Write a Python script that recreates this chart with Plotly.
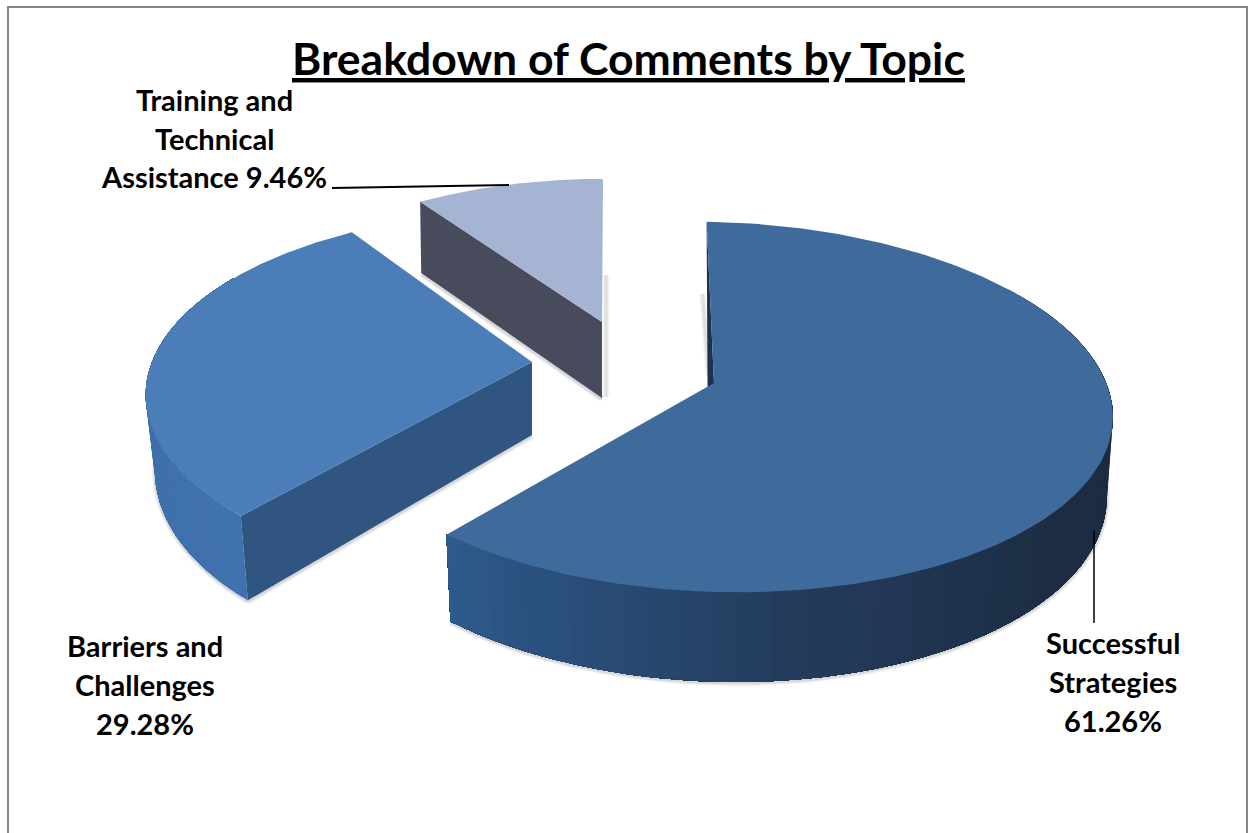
import numpy as np
import plotly.graph_objects as go

# Comment shares by topic, clockwise from twelve o'clock
TOPICS = ["Successful Strategies", "Barriers and Challenges", "Training and Technical Assistance"]
SHARES = [61.26, 29.28, 9.46]

TITLE = "Breakdown of Comments by Topic"
FONT = "Lato, Carlito, Calibri, sans-serif"

# Wrapped label lines; the share is filled into the last one
LABEL_LINES = [
    ["Successful", "Strategies", "{:.2f}%"],
    ["Barriers and", "Challenges", "{:.2f}%"],
    ["Training and", "Technical", "Assistance {:.2f}%"],
]
LABEL_X = [1113, 145, 214]
LABEL_Y = [[642, 681, 720], [645, 684, 723], [99, 138, 176]]

# Perspective of each exploded wedge: apex, rim offset, radii, foreshortening, shear,
# rim tilt, wall height, wall taper, foot offset under the apex and a small rotation
WEDGE_VIEW = [
    dict(cx=714, cy=383, dx=4, a=391, b=182, k=0.13, sh=4, tilt=8, h=78, shrink=0.015, foot=-6, rot=-1.3),
    dict(cx=532, cy=362, dx=0, a=380, b=178, k=0.18, sh=0, tilt=0, h=73, shrink=0.024, foot=0, rot=1.0),
    dict(cx=602, cy=322, dx=1, a=349, b=155, k=0.083, sh=0, tilt=0, h=76, shrink=0.006, foot=0, rot=0.0),
]
TOP_COLORS = ["#3f6a9c", "#4b7eb9", "#a5b4d3"]
CUT_COLORS = ["#1a3150", "#2f5580", "#474b5b"]
# Outer wall colour stops as (fraction along the visible arc, colour)
WALL_STOPS = [
    [(0.0, (27, 42, 62)), (0.45, (28, 44, 66)), (0.72, (36, 60, 92)), (1.0, (45, 90, 140))],
    [(0.0, (64, 114, 175)), (1.0, (60, 108, 166))],
    None,
]
# Range of angles on which the outer wall can be seen
WALL_RANGE = [(55, 221), (220, 300), None]


def project(view, theta_deg, drop=False):
    """Map angles on a wedge rim to page coordinates, optionally at the wall foot."""
    t = np.radians(np.asarray(theta_deg, float) + view["rot"])
    u, v = np.sin(t), -np.cos(t)
    w = 1 - view["k"] * v
    x = (view["a"] * u + view["sh"] * v) / w + view["dx"]
    y = view["b"] * v / w + view["tilt"] * u
    if drop:
        y = y + view["h"] / w
        x = x * (1 - view["shrink"])
    return view["cx"] + x, view["cy"] + y


def apex(view, drop=False):
    if drop:
        return view["cx"] + view["foot"], view["cy"] + view["h"]
    return view["cx"], view["cy"]


def blend(stops, f):
    for (f0, c0), (f1, c1) in zip(stops, stops[1:]):
        if f <= f1:
            m = (f - f0) / (f1 - f0)
            return "rgb({},{},{})".format(*[round(p + (q - p) * m) for p, q in zip(c0, c1)])
    return "rgb({},{},{})".format(*stops[-1][1])


def poly(xs, ys, color, name=None):
    return go.Scatter(
        x=list(xs), y=list(ys), mode="lines", fill="toself", fillcolor=color,
        line=dict(width=0), hoverinfo="skip", showlegend=False, name=name,
    )


def soft_edge(xs, ys, strength=1.0):
    """Blurred contact shadow built from stacked translucent strokes."""
    return [
        go.Scatter(x=list(xs), y=list(np.asarray(ys) + 1), mode="lines",
                   line=dict(color=f"rgba(70,70,70,{alpha * strength:.3f})", width=width),
                   hoverinfo="skip", showlegend=False)
        for width, alpha in [(7, 0.05), (5, 0.07), (3, 0.10)]
    ]


fig = go.Figure()

cum = np.concatenate([[0], np.cumsum(SHARES)]) * 3.6

# Painted back to front: training, barriers, then the large wedge
for i in [2, 1, 0]:
    view = WEDGE_VIEW[i]
    start, end = cum[i], cum[i + 1]
    arc = np.linspace(start, end, 181)
    rim_x, rim_y = project(view, arc)
    ax, ay = apex(view)
    bx, by = apex(view, drop=True)
    ex, ey = project(view, start)
    fx, fy = project(view, start, drop=True)

    # Contact shadows under the walls
    if WALL_RANGE[i]:
        lo, hi = WALL_RANGE[i]
        foot_arc = arc[(arc > max(lo, 70 if i == 0 else lo)) & (arc < min(hi, 290 if i == 1 else hi))]
        sx, sy = project(view, foot_arc, drop=True)
        for tr in soft_edge(sx, sy):
            fig.add_trace(tr)
    if i == 0:
        for tr in soft_edge([ex - 4, ex + 2], [ey + 71, ay - 8], 0.8):
            fig.add_trace(tr)
    else:
        for tr in soft_edge([fx, bx], [fy, by]):
            fig.add_trace(tr)
    if i == 2:
        for tr in soft_edge([bx + 4, bx + 4], [by - 2, ay - 48], 0.8):
            fig.add_trace(tr)

    # Outer wall: each strip reaches to the far end of the arc and the next
    # one paints over it, so no seams open up between neighbours
    if WALL_RANGE[i]:
        lo, hi = WALL_RANGE[i]
        wall_arc = np.linspace(max(lo, start), min(hi, end), 70)
        wall_top_x, wall_top_y = project(view, wall_arc)
        wall_low_x, wall_low_y = project(view, wall_arc, drop=True)
        for j in range(len(wall_arc) - 1):
            frac = j / (len(wall_arc) - 2)
            fig.add_trace(poly(
                np.concatenate([wall_top_x[j:], wall_low_x[j:][::-1], wall_top_x[j:j + 1]]),
                np.concatenate([wall_top_y[j:], wall_low_y[j:][::-1], wall_top_y[j:j + 1]]),
                blend(WALL_STOPS[i], frac),
            ))

    # Straight cut wall
    fig.add_trace(poly([ex, ax, bx, fx, ex], [ey, ay, by, fy, ey], CUT_COLORS[i],
                       name=f"{TOPICS[i]} cut"))

    # Top face
    fig.add_trace(poly(
        np.concatenate([[ax], rim_x, [ax]]),
        np.concatenate([[ay], rim_y, [ay]]),
        TOP_COLORS[i], name=TOPICS[i],
    ))

# Title and category labels, one annotation per wrapped line
annotations = [
    dict(x=628, y=57, text=f"<u>{TITLE}</u>", showarrow=False, xanchor="center", yanchor="middle",
         font=dict(family=FONT, size=44.5, color="#000000", weight="bold")),
]
for lines, lx, ly, share in zip(LABEL_LINES, LABEL_X, LABEL_Y, SHARES):
    for line, y in zip(lines, ly):
        annotations.append(dict(
            x=lx, y=y, text=line.format(share), showarrow=False,
            xanchor="center", yanchor="middle",
            font=dict(family=FONT, size=29, color="#000000", weight="bold"),
        ))

shapes = [
    # Chart frame, open at the bottom of the page
    dict(type="rect", x0=8, y0=7, x1=1247, y1=860, line=dict(color="#868686", width=2),
         fillcolor="rgba(0,0,0,0)", layer="below"),
    # Leader lines
    dict(type="line", x0=332, y0=188, x1=509, y1=185, line=dict(color="#000000", width=2)),
    dict(type="line", x0=1094, y0=530, x1=1094, y1=623, line=dict(color="#000000", width=1.5)),
]

fig.update_layout(
    width=1252, height=833,
    margin=dict(l=0, r=0, t=0, b=0),
    paper_bgcolor="#ffffff", plot_bgcolor="#ffffff",
    xaxis=dict(range=[0, 1252], visible=False, fixedrange=True),
    yaxis=dict(range=[833, 0], visible=False, fixedrange=True),
    annotations=annotations, shapes=shapes, showlegend=False,
)

fig.write_html("out.html")
